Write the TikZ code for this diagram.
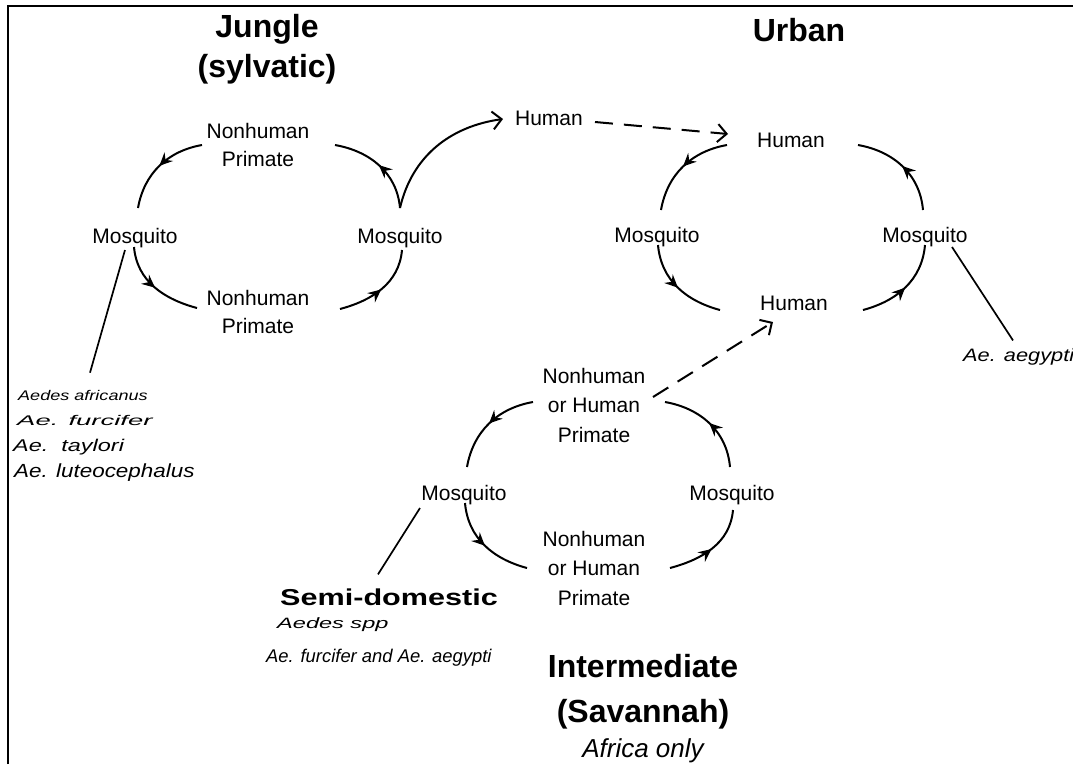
\documentclass[tikz,border=0pt]{standalone}
\usepackage{fontspec}
\setmainfont{Liberation Sans}
\usepackage{graphicx}
\usetikzlibrary{arrows.meta,decorations.markings}
\begin{document}
\begin{tikzpicture}[x=1pt,y=-1pt,
  lbl/.style={font=\fontsize{21}{28}\selectfont, align=center, inner sep=0pt},
  lbl3/.style={font=\fontsize{21}{29.5}\selectfont, align=center, inner sep=0pt},
  title/.style={font=\bfseries\fontsize{32}{40}\selectfont, align=center, inner sep=0pt},
  species/.style={anchor=west, inner sep=0pt},
  cyc/.style={line width=2pt, postaction={decorate},
    decoration={markings, mark=at position 0.5 with {\arrow{Stealth[length=13pt,width=12pt,inset=4.5pt]}}}},
  endarrow/.style={line width=2pt, -{Straight Barb[length=9pt,width=18pt]}},
  dasharrow/.style={line width=2pt, dash pattern=on 18pt off 11pt, -{Straight Barb[length=9pt,width=18pt]}},
  leader/.style={line width=1.7pt}
]
\useasboundingbox (0,0) rectangle (1073,764);
\draw[line width=2.2pt] (8,764) -- (8,6) -- (1073,6);

% titles
\node[title] (tj) at (267,49) {Jungle\\(sylvatic)};
\node[title] (tu) at (799,30) {Urban};
\node[title, font=\bfseries\fontsize{32}{45}\selectfont] (ti) at (643,692) {Intermediate\\(Savannah)};
\node[inner sep=0pt, font=\itshape\fontsize{26}{30}\selectfont] (ta) at (643,751) {Africa only};

% jungle cycle
\node[lbl] (jt) at (258,145) {Nonhuman\\Primate};
\node[lbl] (jl) at (135,238) {Mosquito};
\node[lbl] (jr) at (400,238) {Mosquito};
\node[lbl] (jb) at (258,312) {Nonhuman\\Primate};
\node[lbl] (hj) at (549,118) {Human};

% urban cycle
\node[lbl] (ut) at (791,140) {Human};
\node[lbl] (ul) at (657,237) {Mosquito};
\node[lbl] (ur) at (925,237) {Mosquito};
\node[lbl] (ub) at (794,303) {Human};

% intermediate cycle
\node[lbl3] (it) at (594,405) {Nonhuman\\or Human\\Primate};
\node[lbl] (il) at (464,495) {Mosquito};
\node[lbl] (ir) at (732,495) {Mosquito};
\node[lbl3] (ib) at (594,568) {Nonhuman\\or Human\\Primate};

% species
\node[species, font=\itshape\fontsize{14}{16}\selectfont] (sp1) at (18,395) {\scalebox{1.29}[1]{Aedes africanus}};
\node[species, font=\itshape\fontsize{14}{16}\selectfont] (sp2) at (17,420) {\scalebox{1.96}[1]{Ae. furcifer}};
\node[species, font=\itshape\fontsize{17}{19}\selectfont] (sp3) at (13,447) {\scalebox{1.38}[1]{Ae.\ \ taylori}};
\node[species, font=\itshape\fontsize{19}{21}\selectfont] (sp4) at (14,473) {\scalebox{1.18}[1]{Ae. luteocephalus}};
\node[species, font=\itshape\fontsize{18}{20}\selectfont] (aeg) at (963,357) {\scalebox{1.21}[1]{Ae. aegypti}};
\node[species, font=\bfseries\fontsize{23}{25}\selectfont] (semi) at (280,597) {\scalebox{1.33}[1]{Semi-domestic}};
\node[species, font=\itshape\fontsize{15}{17}\selectfont] (spp) at (277,625) {\scalebox{1.57}[1]{Aedes spp}};
\node[species, font=\itshape\fontsize{18.4}{20}\selectfont] (fa) at (266,658) {Ae. furcifer and Ae. aegypti};

% jungle arcs
\draw[cyc] ([shift={(-56,0)}]jt.center) to[out=190,in=80] ([shift={(3,-30)}]jl.center);
\draw[cyc] ([shift={(-1,9)}]jl.center) to[out=275,in=165] ([shift={(-61,-4)}]jb.center);
\draw[cyc] ([shift={(82,-3)}]jb.center) to[out=15,in=265] ([shift={(2,12)}]jr.center);
\draw[cyc] ([shift={(0,-30)}]jr.center) to[out=95,in=350] ([shift={(77,0)}]jt.center);
\draw[endarrow] ([shift={(0,-30)}]jr.center) to[out=77,in=188] ([shift={(-46,1)}]hj.center);
\draw[dasharrow] ([shift={(46,4)}]hj.center) -- ([shift={(-63,-6)}]ut.center);

% urban arcs
\draw[cyc] ([shift={(-64,5)}]ut.center) to[out=190,in=80] ([shift={(4,-27)}]ul.center);
\draw[cyc] ([shift={(1,8)}]ul.center) to[out=275,in=165] ([shift={(-74,7)}]ub.center);
\draw[cyc] ([shift={(69,7)}]ub.center) to[out=15,in=265] ([shift={(0,8)}]ur.center);
\draw[cyc] ([shift={(-2,-27)}]ur.center) to[out=95,in=350] ([shift={(67,5)}]ut.center);

% intermediate arcs
\draw[cyc] ([shift={(-61,-3)}]it.center) to[out=190,in=80] ([shift={(3,-28)}]il.center);
\draw[cyc] ([shift={(1,8)}]il.center) to[out=275,in=165] ([shift={(-67,0)}]ib.center);
\draw[cyc] ([shift={(76,0)}]ib.center) to[out=15,in=265] ([shift={(1,15)}]ir.center);
\draw[cyc] ([shift={(-2,-28)}]ir.center) to[out=95,in=350] ([shift={(71,-3)}]it.center);
\draw[dasharrow] ([shift={(59,-8)}]it.center) -- ([shift={(-21,19)}]ub.center);

% leader lines
\draw[leader] ([shift={(-10,12)}]jl.center) -- ([shift={(72,-17)}]sp1.north west);
\draw[leader] ([shift={(27,10)}]ur.center) -- ([shift={(50,-8)}]aeg.north west);
\draw[leader] ([shift={(-44,13)}]il.center) -- ([shift={(98,-14)}]semi.north west);
\end{tikzpicture}
\end{document}
